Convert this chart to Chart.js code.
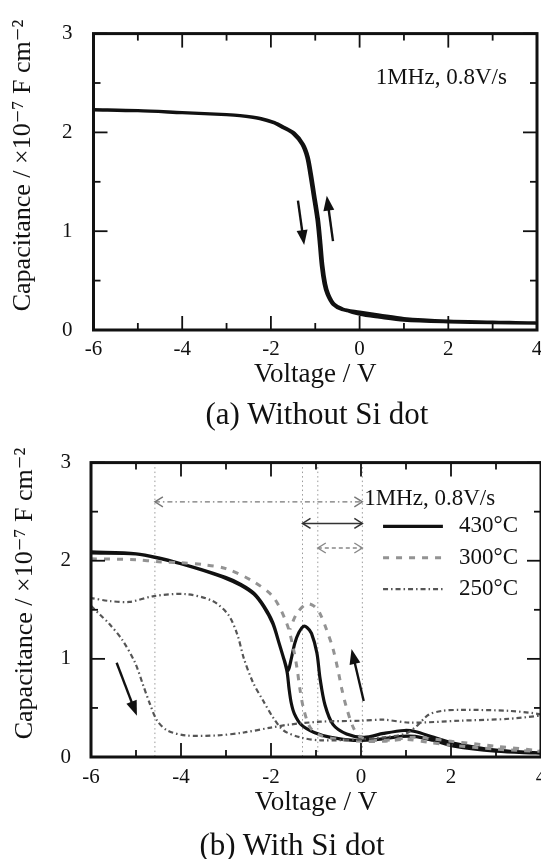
<!DOCTYPE html>
<html>
<head>
<meta charset="utf-8">
<script src="https://cdn.jsdelivr.net/npm/chart.js@4.4.0/dist/chart.umd.min.js"></script>
<style>
  html, body { margin: 0; padding: 0; background: #fff; overflow: hidden; }
  #page { position: relative; width: 541px; height: 859px; overflow: hidden; background: #fff; }
  canvas { position: absolute; left: 0; }
  .cap { position: absolute; font-family: "Liberation Serif", serif; font-size: 31px; color: #111;
         white-space: nowrap; transform: translate(-50%, -50%); }
</style>
</head>
<body>
<div id="page">
  <canvas id="chartA" width="560" height="400" style="top:0"></canvas>
  <div class="cap" style="left:317px; top:414px">(a) Without Si dot</div>
  <canvas id="chartB" width="560" height="400" style="top:430px"></canvas>
  <div class="cap" style="left:292px; top:845px">(b) With Si dot</div>
</div>
<script>
// axes
const xRange = [-6, 4];
const yRange = [0, 3];
const xTitle = 'Voltage / V';
const yTitle = 'Capacitance / \u00d710\u207b\u2077 F cm\u207b\u00b2';
const sweepNote = '1MHz, 0.8V/s';

// (a) without Si dot: sweep -6 -> 4 and back to -6
const voltsA = [-6, -5, -4, -3, -2.7, -2.25, -1.95, -1.73, -1.5, -1.3, -1.19, -1.12, -1.05, -0.96, -0.91, -0.86, -0.8, -0.73, -0.6, -0.4, 0, 0.45, 1, 2, 3, 4,
                3, 2, 1, 0.45, 0, -0.37, -0.57, -0.7, -0.77, -0.83, -0.88, -0.93, -1.02, -1.09, -1.16, -1.27, -1.47, -1.7, -1.92, -2.22, -2.7, -3, -4, -5, -6];
const capA = [2.23, 2.22, 2.2, 2.18, 2.17, 2.14, 2.1, 2.05, 1.99, 1.88, 1.75, 1.58, 1.38, 1.12, 0.9, 0.65, 0.47, 0.36, 0.26, 0.21, 0.18, 0.15, 0.115, 0.09, 0.08, 0.07,
              0.075, 0.083, 0.1, 0.13, 0.16, 0.21, 0.26, 0.36, 0.47, 0.65, 0.9, 1.12, 1.38, 1.58, 1.75, 1.88, 1.99, 2.05, 2.1, 2.14, 2.17, 2.18, 2.2, 2.22, 2.23];

// (b) with Si dot, 430°C
const volts430 = [-6, -5, -4.5, -4, -3.5, -3, -2.67, -2.38, -2.16, -1.96, -1.82, -1.71, -1.64, -1.6, -1.55, -1.48, -1.33, -1.04, -0.67, -0.16, 0.38, 0.9, 1.2, 1.6, 2.07, 3, 4,
                  3, 2.07, 1.62, 1.2, 0.96, 0.5, 0.07, -0.32, -0.62, -0.8, -0.91, -0.98, -1.1, -1.2, -1.28, -1.38, -1.47, -1.56, -1.62,
                  -1.7, -1.82, -1.96, -2.16, -2.38, -2.67, -3, -4, -5, -6];
const cap430 = [2.08, 2.07, 2.03, 1.97, 1.9, 1.82, 1.75, 1.66, 1.53, 1.36, 1.16, 0.99, 0.86, 0.7, 0.55, 0.44, 0.33, 0.25, 0.2, 0.17, 0.18, 0.21, 0.21, 0.17, 0.11, 0.06, 0.04,
                0.07, 0.14, 0.2, 0.26, 0.27, 0.24, 0.2, 0.235, 0.33, 0.53, 0.8, 1.06, 1.26, 1.32, 1.33, 1.27, 1.16, 0.98, 0.88,
                0.98, 1.16, 1.37, 1.54, 1.67, 1.76, 1.83, 1.97, 2.07, 2.09];

// 300°C
const volts300 = [-6, -5, -4.5, -4, -3.5, -3, -2.4, -1.95, -1.65, -1.5, -1.42, -1.36, -1.28, -1.13, -0.9, -0.5, 0, 0.5, 1, 1.5, 2, 3, 4,
                  3, 2, 1.2, 0.5, 0, -0.17, -0.32, -0.43, -0.5, -0.62, -0.76, -0.91, -1.05, -1.21, -1.43, -1.58];
const cap300 = [2.02, 2.01, 1.99, 1.98, 1.96, 1.92, 1.79, 1.63, 1.36, 1.1, 0.9, 0.7, 0.5, 0.3, 0.22, 0.18, 0.16, 0.16, 0.18, 0.15, 0.12, 0.08, 0.06,
                0.11, 0.16, 0.2, 0.17, 0.2, 0.3, 0.5, 0.7, 0.86, 1.1, 1.29, 1.46, 1.54, 1.56, 1.46, 1.3];

// 250°C
const volts250 = [-6, -5.8, -5.6, -5.3, -5.02, -4.84, -4.69, -4.53, -4.3, -3.9, -3.2, -2.6, -2, -1.6, -0.9, 0, 0.5, 1.1, 2.2, 3.3, 4,
                  3.3, 2.2, 1.8, 1.5, 1.25, 1, 0.5, 0, -0.9, -1.35, -1.72, -1.95, -2.17, -2.4, -2.6, -2.75, -2.95, -3.3, -3.9, -4.6, -5.15, -5.6, -6];
const cap250 = [1.54, 1.45, 1.36, 1.19, 0.96, 0.73, 0.54, 0.37, 0.27, 0.22, 0.22, 0.25, 0.3, 0.33, 0.36, 0.37, 0.38, 0.35, 0.37, 0.39, 0.43,
                0.47, 0.48, 0.47, 0.43, 0.32, 0.24, 0.2, 0.18, 0.17, 0.2, 0.27, 0.4, 0.57, 0.76, 1.0, 1.25, 1.45, 1.59, 1.66, 1.64, 1.58, 1.59, 1.62];

const tempLabels = ['430\u00b0C', '300\u00b0C', '250\u00b0C'];

// annotations in data units [v0, c0, v1, c1] (arrow head at the second point)
const arrowsA = [[-1.39, 1.31, -1.25, 0.86], [-0.6, 0.9, -0.74, 1.36]];
const arrowsB = [[-5.43, 0.96, -4.98, 0.42], [0.06, 0.57, -0.21, 1.10]];
const guideVolts = [-4.58, -1.3, -0.96, 0.03];
const spanArrows = [[-4.58, 0.03, 2.6], [-1.3, 0.03, 2.38], [-0.96, 0.03, 2.13]];

const SERIF = '"Liberation Serif", "DejaVu Serif", serif';
const styles = [
  { color: '#111', width: 3.2, dash: [] },
  { color: '#939393', width: 3, dash: [6, 7] },
  { color: '#555', width: 2.2, dash: [5, 3, 1.5, 3] }
];

const pts = (vs, cs) => vs.map((v, i) => ({ x: v, y: cs[i] }));

function line(ctx, x0, y0, x1, y1) {
  ctx.beginPath(); ctx.moveTo(x0, y0); ctx.lineTo(x1, y1); ctx.stroke();
}

function arrow(ctx, x0, y0, x1, y1) {
  const ang = Math.atan2(y1 - y0, x1 - x0), L = 15, W = 5.5;
  ctx.lineWidth = 2.4;
  line(ctx, x0, y0, x1 - Math.cos(ang) * L * 0.8, y1 - Math.sin(ang) * L * 0.8);
  ctx.beginPath();
  ctx.moveTo(x1, y1);
  ctx.lineTo(x1 - Math.cos(ang) * L - Math.sin(ang) * W, y1 - Math.sin(ang) * L + Math.cos(ang) * W);
  ctx.lineTo(x1 - Math.cos(ang) * L + Math.sin(ang) * W, y1 - Math.sin(ang) * L - Math.cos(ang) * W);
  ctx.closePath(); ctx.fill();
}

function openHead(ctx, x, y, dir) {
  ctx.beginPath();
  ctx.moveTo(x - dir * 8, y - 5); ctx.lineTo(x, y); ctx.lineTo(x - dir * 8, y + 5);
  ctx.stroke();
}

const framePlugin = {
  id: 'frame',
  afterDraw(chart) {
    const { ctx, chartArea: a, scales: { x, y } } = chart;
    ctx.save();
    ctx.strokeStyle = '#111';
    ctx.lineWidth = 1.8;
    for (let v = xRange[0]; v <= xRange[1]; v++) {
      const px = x.getPixelForValue(v), len = v % 2 === 0 ? 14 : 7;
      line(ctx, px, a.bottom, px, a.bottom - len);
      line(ctx, px, a.top, px, a.top + len);
    }
    for (let c = yRange[0]; c <= yRange[1]; c += 0.5) {
      const py = y.getPixelForValue(c), len = c % 1 === 0 ? 14 : 7;
      line(ctx, a.left, py, a.left + len, py);
      line(ctx, a.right, py, a.right - len, py);
    }
    ctx.lineWidth = 3;
    ctx.strokeRect(a.left, a.top, a.right - a.left, a.bottom - a.top);
    ctx.restore();
  }
};

function axisOpts(o) {
  return {
    x: {
      type: 'linear', min: xRange[0], max: xRange[1],
      grid: { display: false, drawTicks: false }, border: { display: false },
      ticks: { stepSize: 2, color: '#111', padding: o.xTickPad, font: { family: SERIF, size: 21 } },
      title: { display: true, text: xTitle, color: '#111', padding: { top: 0, bottom: o.xTitlePad }, font: { family: SERIF, size: 27 } },
      afterFit: s => { s.height = o.xHeight; }
    },
    y: {
      type: 'linear', min: yRange[0], max: yRange[1],
      grid: { display: false, drawTicks: false }, border: { display: false },
      ticks: { stepSize: 1, color: '#111', padding: o.yTickPad, font: { family: SERIF, size: 21 } },
      title: { display: true, text: '\u00a0'.repeat(5) + yTitle, color: '#111', padding: { top: o.yTitlePad, bottom: 0 }, font: { family: SERIF, size: 26 } },
      afterFit: s => { s.width = o.yWidth; }
    }
  };
}

// panel (a)
new Chart(document.getElementById('chartA'), {
  type: 'scatter',
  data: {
    datasets: [{
      data: pts(voltsA, capA), showLine: true, pointRadius: 0, tension: 0.3,
      borderColor: '#111', borderWidth: 3.4
    }]
  },
  options: {
    responsive: false, animation: false,
    layout: { padding: { top: 26, right: 23, bottom: 0, left: 0 } },
    plugins: { legend: { display: false }, tooltip: { enabled: false } },
    scales: axisOpts({ xTickPad: 7, xTitlePad: 9, xHeight: 70, yTickPad: 21, yTitlePad: 8, yWidth: 93.5 })
  },
  plugins: [framePlugin, {
    id: 'notesA',
    afterDatasetsDraw(chart) {
      const { ctx, scales: { x, y } } = chart;
      ctx.save();
      ctx.fillStyle = '#111'; ctx.strokeStyle = '#111';
      arrowsA.forEach(r => arrow(ctx, x.getPixelForValue(r[0]), y.getPixelForValue(r[1]), x.getPixelForValue(r[2]), y.getPixelForValue(r[3])));
      ctx.font = '23px ' + SERIF;
      ctx.textAlign = 'right'; ctx.textBaseline = 'middle';
      ctx.fillText(sweepNote, x.getPixelForValue(3.32), y.getPixelForValue(2.55));
      ctx.restore();
    }
  }]
});

// panel (b)
const seriesB = [pts(volts430, cap430), pts(volts300, cap300), pts(volts250, cap250)];
new Chart(document.getElementById('chartB'), {
  type: 'scatter',
  data: {
    datasets: seriesB.map((d, i) => ({
      label: tempLabels[i], data: d, showLine: true, pointRadius: 0, tension: 0.3,
      borderColor: styles[i].color, borderWidth: styles[i].width, borderDash: styles[i].dash
    })).reverse()
  },
  options: {
    responsive: false, animation: false,
    layout: { padding: { top: 25, right: 19, bottom: 0, left: 0 } },
    plugins: { legend: { display: false }, tooltip: { enabled: false } },
    scales: axisOpts({ xTickPad: 8, xTitlePad: 11, xHeight: 73, yTickPad: 20, yTitlePad: 10, yWidth: 91 })
  },
  plugins: [{
    id: 'guidesB',
    beforeDatasetsDraw(chart) {
      const { ctx, chartArea: a, scales: { x } } = chart;
      ctx.save();
      ctx.strokeStyle = '#9a9a9a'; ctx.lineWidth = 1; ctx.setLineDash([1.5, 3]);
      guideVolts.forEach(v => { const px = x.getPixelForValue(v); line(ctx, px, a.top, px, a.bottom); });
      ctx.restore();
    }
  }, framePlugin, {
    id: 'notesB',
    afterDatasetsDraw(chart) {
      const { ctx, scales: { x, y } } = chart;
      ctx.save();
      ctx.fillStyle = '#111'; ctx.strokeStyle = '#111';
      arrowsB.forEach(r => arrow(ctx, x.getPixelForValue(r[0]), y.getPixelForValue(r[1]), x.getPixelForValue(r[2]), y.getPixelForValue(r[3])));
      // double-headed span arrows
      const spanStyle = [{ c: '#777', w: 1.4, d: [5, 3, 1.5, 3] }, { c: '#333', w: 1.5, d: [] }, { c: '#888', w: 1.4, d: [4, 3] }];
      spanArrows.forEach((s, i) => {
        const x0 = x.getPixelForValue(s[0]), x1 = x.getPixelForValue(s[1]), py = y.getPixelForValue(s[2]);
        ctx.strokeStyle = spanStyle[i].c; ctx.lineWidth = spanStyle[i].w;
        ctx.setLineDash(spanStyle[i].d); line(ctx, x0, py, x1, py);
        ctx.setLineDash([]); openHead(ctx, x0, py, -1); openHead(ctx, x1, py, 1);
      });
      ctx.fillStyle = '#111';
      ctx.font = '23px ' + SERIF;
      ctx.textAlign = 'left'; ctx.textBaseline = 'middle';
      ctx.fillText(sweepNote, x.getPixelForValue(0.07), y.getPixelForValue(2.63));
      // legend
      const rows = [2.35, 2.03, 1.71];
      tempLabels.forEach((t, i) => {
        const py = y.getPixelForValue(rows[i]);
        ctx.strokeStyle = styles[i].color; ctx.lineWidth = styles[i].width; ctx.setLineDash(styles[i].dash);
        line(ctx, x.getPixelForValue(0.49), py, x.getPixelForValue(1.82), py);
        ctx.setLineDash([]);
        ctx.fillText(t, x.getPixelForValue(2.18), py);
      });
      ctx.restore();
    }
  }]
});
</script>
</body>
</html>
